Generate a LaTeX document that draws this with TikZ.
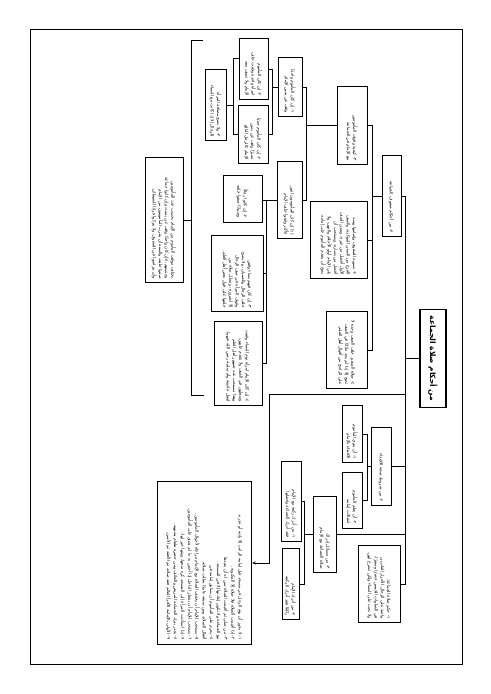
\documentclass[tikz,border=0pt]{standalone}
\usepackage{fontspec}
\newfontfamily\arabicfont[Script=Arabic]{DejaVu Sans}
\TeXXeTstate=1
\usepackage{tikz}
\usetikzlibrary{arrows.meta, positioning}
\newcommand{\artext}[1]{\beginR #1\endR}

\begin{document}
\begin{tikzpicture}[x=1bp, y=-1bp,
  leaf/.style={draw, rotate=-90, line width=0.8pt, inner sep=2pt, align=right, font=\arabicfont\fontsize{4.3}{6.3}\selectfont},
  headbox/.style={draw, rotate=-90, line width=1.2pt, inner sep=2pt, font=\arabicfont\bfseries\fontsize{7.5}{9}\selectfont},
  link/.style={line width=0.8pt},
  arr/.style={-{Stealth[length=3.5pt, width=3pt]}, line width=0.8pt},
]
\useasboundingbox (0,0) rectangle (491,694);
\draw[line width=0.9pt] (30,29) rectangle (462,664);

\node[headbox, minimum width=99, minimum height=26] (title) at (433,358.5) {\artext{من أحكام صلاة الجماعة}};

\node[leaf, minimum width=82, minimum height=19, text width=74] (rows) at (391.5,196) {\artext{٣- من أحكام صفوف الجماعة}};
\node[leaf, minimum width=79, minimum height=30, text width=71] (stand) at (352,125.5) {\artext{٣- كيفية وقوف المأمومين مع الإمام في الجماعة}};
\node[leaf, minimum width=60, minimum height=24, text width=52] (one) at (290,87) {\artext{١- إن كان المأموم واحدًا وقف عن يمين الإمام}};
\node[leaf, minimum width=62, minimum height=29, text width=54] (woman) at (253.5,69) {\artext{٢- إن كان المأموم امرأة واحدة وقفت خلف الإمام ولا تصف معه}};
\node[leaf, minimum width=59, minimum height=30, text width=51] (boy) at (253,134.5) {\artext{٢- إن كان المأموم صبيًا مميزًا وقف عن يمين الإمام كالرجل البالغ}};
\node[leaf, minimum width=72, minimum height=21, text width=64] (mixed) at (215.5,105) {\artext{٣- ولا تصح مصافة المرأة للرجال إلا إذا كانت مع النساء}};
\node[leaf, minimum width=78, minimum height=25, text width=70] (many) at (289.5,200) {\artext{(١) إن كان المأمومون اثنين فأكثر وقفوا خلف الإمام}};
\node[leaf, minimum width=47, minimum height=39, text width=39] (men) at (242.5,198.5) {\artext{٢- إن كانوا رجالًا وصبيانًا صفوا خلفه}};
\node[leaf, minimum width=77, minimum height=52, text width=69] (women) at (237,273.5) {\artext{٣- إن كان فيهم نساء وقفن خلف الرجال والصبيان، ولا يصح وقوف المرأة في صف الرجال إلا لضرورة، وتبطل صلاة من خلفها على قول بعض أهل العلم.}};
\node[leaf, minimum width=85, minimum height=48, text width=77] (imama) at (238,363.5) {\artext{٤- إن كان الإمام امرأة تؤم النساء وقفت وسطهن في الصف ولا تتقدم عليهن، وهذا مستحب عند جمهور أهل العلم لفعل عائشة وأم سلمة رضي الله عنهما.}};
\node[leaf, minimum width=78, minimum height=57, text width=70] (even) at (338.5,240) {\artext{٢- تسوية الصفوف وإتمامها وسد الفرج من السنن المؤكدة، والصف الأول أفضل من غيره، ويمين الصف أفضل من يساره، ويستحب أن يلي الإمام أولو الأحلام والنهى، ولا يصح أن يتقدم المأموم على إمامه.}};
\node[leaf, minimum width=78, minimum height=41, text width=70] (alone) at (346.5,350) {\artext{٤- صلاة المنفرد خلف الصف وحده لا تصح إلا إذا لم يجد مكانًا في الصف على الراجح من أقوال أهل العلم.}};
\node[leaf, minimum width=126, minimum height=38, text width=118] (note) at (164,220) {\artext{يختلف موقف المأموم من الإمام بحسب عدد المأمومين وجنسهم، فإن كان واحدًا وقف عن يمينه، وإن كانوا جماعة صفوا خلفه، والسنة أن يقرب المأمومون من الإمام وأن يتراصوا في الصفوف ولا يتركوا فرجًا للشيطان.}};

\node[leaf, minimum width=79, minimum height=20, text width=71] (cond) at (381,466.5) {\artext{٢- من شروط صحة الاقتداء}};
\node[leaf, minimum width=58, minimum height=20, text width=50] (intent) at (352,434) {\artext{١- أن ينوي المأموم الاقتداء بالإمام}};
\node[leaf, minimum width=56, minimum height=20, text width=48] (follow) at (352,500) {\artext{٢- أن يعلم المأموم انتقالات إمامه}};
\node[leaf, minimum width=77, minimum height=23, text width=69] (catch) at (324.5,534.5) {\artext{٣- من مسائل إدراك صلاة الجماعة مع الإمام}};
\node[leaf, minimum width=81, minimum height=20, text width=73] (rakah) at (291,501.5) {\artext{١- من أدرك ركعة مع الإمام فقد أدرك الجماعة وفضلها}};
\node[leaf, minimum width=72, minimum height=17, text width=64] (ruku) at (290.5,584) {\artext{٢- من أدرك الإمام راكعًا فقد أدرك الركعة}};
\node[leaf, minimum width=78, minimum height=42, text width=70] (ruling) at (379,584) {\artext{١- حكم صلاة الجماعة:}\\
\artext{واجبة على الرجال الأحرار القادرين في الصلوات الخمس حضرًا وسفرًا، ولا تجب على النساء ولكن تشرع لهن.}};

\node[leaf, minimum width=164, minimum height=95, text width=154, font=\arabicfont\fontsize{4.3}{7.2}\selectfont] (misc) at (204.5,563) {\artext{١- لا يجوز أن يؤم الرجل في مسجد قبل إمامه الراتب إلا بإذنه أو عذره.}\\
\artext{٢- إذا أقيمت الصلاة فلا صلاة إلا المكتوبة.}\\
\artext{٣- من صلى ثم أقيمت الصلاة سن له أن يعيدها مع الجماعة ولا تكون إعادتها إلا في المسجد.}\\
\artext{٤- يحرم على المأموم أن يسابق إمامه في أفعال الصلاة، ومن سبقه عامدًا بطلت صلاته.}\\
\artext{٥- يستحب للإمام أن يخفف الصلاة مع الإتمام مراعاة لأحوال المأمومين.}\\
\artext{٦- يستحب للإمام أن ينتظر الداخل إذا أحس به ما لم يشق على المأمومين.}\\
\artext{٧- إذا استأذنت المرأة إلى المسجد كره منعها، وبيتها خير لها.}\\
\artext{٨- يعذر بترك الجماعة المريض والخائف ومن حضره طعام يشتهيه.}\\
\artext{٩- الأولى بالإمامة الأقرأ العالم فقه صلاته ثم الأفقه ثم الأسن.}};

\coordinate (toothers) at (405,394);
\coordinate (bracetop) at (203,40);
\coordinate (bracebot) at (204,395);

\draw[link] (title.south) -- (title.south -| 405,0);
\draw[link] (rows.north) -- (rows.north -| 405,0) -- (ruling.north -| 405,0) -- (ruling.north);
\draw[link] (cond.north) -- (cond.north -| 405,0);
\draw[link] (catch.north) -- (catch.north -| 405,0);
\draw[arr] (toothers) -- (269,394) |- (misc.north);

\draw[link] (rows.south) -- (rows.south -| 372,0);
\draw[link] (stand.north) -- (stand.north -| 372,0) -- (alone.north -| 372,0) -- (alone.north);
\draw[link] (even.north) -- (even.north -| 372,0);

\draw[link] (stand.south) -- (stand.south -| 306,0);
\draw[link] (one.north) -- (one.north -| 306,0) -- (many.north -| 306,0) -- (many.north);

\draw[link] (one.south) -- (one.south -| 272,0);
\draw[link] (woman.north) -- (woman.north -| 272,0) -- (boy.north -| 272,0) -- (boy.north);
\draw[link] (woman.south |- 0,58) -- (233,58) |- (boy.south);
\draw[link] (mixed.north) -- (mixed.north -| 233,0);

\draw[link] (many.south) -- (many.south -| men.north);
\draw[link] (many.south -| 266,0) -- (imama.north -| 266,0) -- (imama.north);
\draw[link] (women.north) -- (women.north -| 266,0);

\draw[link] (bracetop) -- (191,40) -- (191,395) -- (bracebot);
\draw[link] (note.north) -- (note.north -| 191,0);

\draw[link] (cond.south) -- (cond.south -| 367,0);
\draw[link] (intent.north) -- (intent.north -| 367,0) -- (follow.north -| 367,0) -- (follow.north);

\draw[link] (catch.south) -- (catch.south -| 304,0);
\draw[link] (rakah.north) -- (rakah.north -| 304,0) -- (ruku.north -| 304,0) -- (ruku.north);
\end{tikzpicture}
\end{document}
